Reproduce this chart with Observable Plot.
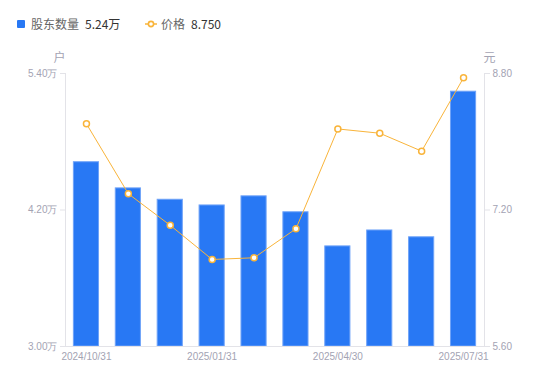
<!DOCTYPE html>
<html><head><meta charset="utf-8">
<script src="https://cdn.jsdelivr.net/npm/d3@7"></script>
<script src="https://cdn.jsdelivr.net/npm/@observablehq/plot@0.6"></script>
<style>
body{margin:0;background:#fff;font-family:"Noto Sans CJK SC","Noto Sans",sans-serif;}
#wrap{position:relative;width:550px;height:381px;}
#legend{position:absolute;left:0;top:0;width:550px;height:40px;font-size:12px;}
#chart{position:absolute;left:0;top:40px;}
.lg{position:absolute;top:16px;line-height:16px;white-space:nowrap;}
</style></head>
<body><div id="wrap"><div id="legend"></div><div id="chart"></div></div>
<script>
const dates = ["2024/10/31","2024/11/30","2024/12/31","2025/01/31","2025/02/28","2025/03/31","2025/04/30","2025/05/31","2025/06/30","2025/07/31"];
const holders = [4.62, 4.39, 4.29, 4.24, 4.32, 4.18, 3.88, 4.02, 3.96, 5.24]; // 万户
const prices = [8.21, 7.39, 7.02, 6.62, 6.64, 6.98, 8.15, 8.10, 7.89, 8.75]; // 元
const leftTicks = [3.0, 4.2, 5.4];
const rightTicks = [5.6, 7.2, 8.8];
const xLabels = ["2024/10/31","2025/01/31","2025/04/30","2025/07/31"];

const yMin = 3.0, yMax = 5.4, pMin = 5.6, pMax = 8.8;
const toY = p => yMin + (p - pMin) * (yMax - yMin) / (pMax - pMin);
const fromY = y => pMin + (y - yMin) * (pMax - pMin) / (yMax - yMin);

const data = dates.map((d, i) => ({date: d, h: holders[i], p: prices[i], py: toY(prices[i])}));

const barColor = "#2878f4", lineColor = "#f9b43a", axisColor = "#e3e3e8", tickText = "#a3a3b3";

const chart = Plot.plot({
  width: 550, height: 341,
  marginTop: 33, marginBottom: 35, marginLeft: 65, marginRight: 66,
  style: {fontFamily: "Liberation Sans, Arial, sans-serif", fontSize: "10px", background: "#fff"},
  x: {type: "band", domain: dates, paddingInner: 0.4, paddingOuter: 0.2, round: false, axis: null},
  y: {domain: [yMin, yMax], axis: null},
  marks: [
    Plot.barY(data, {x: "date", y1: yMin, y2: "h", fill: barColor, stroke: "#6fa3f8", strokeWidth: 1}),
    Plot.axisY({anchor: "left", ticks: leftTicks, tickSize: 5, tickPadding: 3, stroke: axisColor,
      tickFormat: d => d.toFixed(2) + "万", fill: tickText, fontSize: 10, label: null}),
    Plot.axisY({anchor: "right", ticks: rightTicks.map(toY), tickSize: 5, tickPadding: 3, stroke: axisColor,
      tickFormat: d => fromY(d).toFixed(2), fill: tickText, fontSize: 10, label: null}),
    Plot.axisX({ticks: xLabels, tickSize: 0, tickPadding: 6, fill: tickText, fontSize: 10, label: null}),
    Plot.ruleY([yMin], {stroke: axisColor}),
    Plot.frame({anchor: "left", stroke: axisColor}),
    Plot.frame({anchor: "right", stroke: axisColor}),
    Plot.line(data, {x: "date", y: "py", stroke: lineColor, strokeWidth: 1}),
    Plot.dot(data, {x: "date", y: "py", r: 3, stroke: lineColor, strokeWidth: 1.5, fill: "#fff"}),
    Plot.text(["户"], {frameAnchor: "top-left", dx: -6, dy: -20, fill: tickText, fontSize: 12, textAnchor: "middle", fontFamily: "Noto Sans CJK SC"}),
    Plot.text(["元"], {frameAnchor: "top-right", dx: 5, dy: -20, fill: tickText, fontSize: 12, textAnchor: "middle", fontFamily: "Noto Sans CJK SC"})
  ]
});
document.getElementById("chart").appendChild(chart);

const lg = document.getElementById("legend");
lg.innerHTML = `
<div style="position:absolute;left:17px;top:20px;width:8px;height:8px;background:${barColor};border-radius:1px"></div>
<div class="lg" style="left:31px;color:#666">股东数量</div>
<div class="lg" style="left:85px;color:#333">${holders[holders.length-1].toFixed(2)}万</div>
<svg style="position:absolute;left:144px;top:18px" width="14" height="12"><line x1="1" y1="6" x2="13" y2="6" stroke="${lineColor}" stroke-width="1.5"/><circle cx="7" cy="6" r="2.6" fill="#fff" stroke="${lineColor}" stroke-width="1.6"/></svg>
<div class="lg" style="left:161px;color:#666">价格</div>
<div class="lg" style="left:191px;color:#333">${prices[prices.length-1].toFixed(3)}</div>`;
</script></body></html>
